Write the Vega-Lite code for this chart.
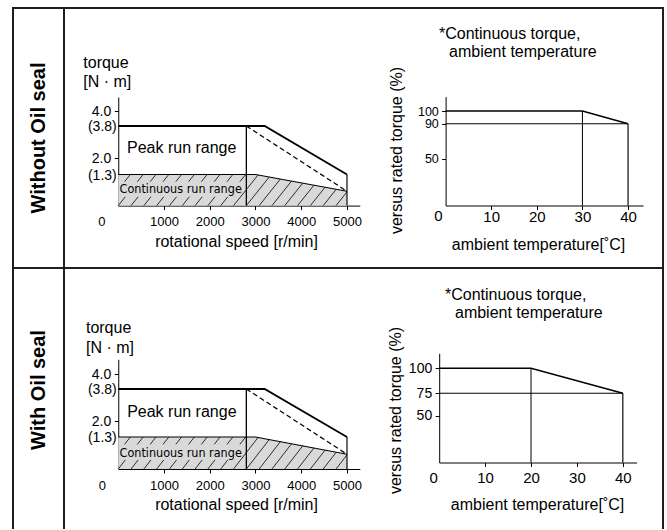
{
"$schema": "https://vega.github.io/schema/vega-lite/v6.json",
"padding": {"left": 12, "top": 7, "right": 3, "bottom": 0},
"bounds": "flush",
"spacing": 0,
"columns": 2,
"config": {
  "font": "Liberation Sans",
  "view": {"stroke": "#1e1e1e", "strokeWidth": 2},
  "axis": {"grid": false, "domainColor": "#000", "domainWidth": 1, "tickColor": "#000", "tickWidth": 1, "labelColor": "#000", "titleColor": "#000", "titleFontWeight": "normal", "labelFlush": false, "labelOverlap": false, "labelBound": false},
  "text": {"color": "#000"},
  "concat": {"spacing": 0}
},
"datasets": {
  "torque_peak": [
    {"speed": 0, "torque": 3.8},
    {"speed": 3200, "torque": 3.8},
    {"speed": 5000, "torque": 1.3}
  ],
  "torque_cont": [
    {"speed": 0, "torque": 1.3},
    {"speed": 3000, "torque": 1.3},
    {"speed": 5000, "torque": 0.6}
  ],
  "torque_segments": [
    {"kind": "rated", "speed": 2800, "torque": 0, "speed2": 2800, "torque2": 3.8},
    {"kind": "dash", "speed": 2800, "torque": 3.8, "speed2": 5000, "torque2": 0.6},
    {"kind": "max", "speed": 5000, "torque": 1.3, "speed2": 5000, "torque2": 0}
  ],
  "hatch": [
    {"speed": 138, "torque": 1.0, "speed2": 264, "torque2": 1.3},
    {"speed": 0, "torque": 0, "speed2": 155, "torque2": 0.37},
    {"speed": 418, "torque": 1.0, "speed2": 544, "torque2": 1.3},
    {"speed": 280, "torque": 0, "speed2": 435, "torque2": 0.37},
    {"speed": 698, "torque": 1.0, "speed2": 824, "torque2": 1.3},
    {"speed": 560, "torque": 0, "speed2": 715, "torque2": 0.37},
    {"speed": 978, "torque": 1.0, "speed2": 1104, "torque2": 1.3},
    {"speed": 840, "torque": 0, "speed2": 995, "torque2": 0.37},
    {"speed": 1258, "torque": 1.0, "speed2": 1384, "torque2": 1.3},
    {"speed": 1120, "torque": 0, "speed2": 1275, "torque2": 0.37},
    {"speed": 1538, "torque": 1.0, "speed2": 1664, "torque2": 1.3},
    {"speed": 1400, "torque": 0, "speed2": 1555, "torque2": 0.37},
    {"speed": 1818, "torque": 1.0, "speed2": 1944, "torque2": 1.3},
    {"speed": 1680, "torque": 0, "speed2": 1835, "torque2": 0.37},
    {"speed": 2098, "torque": 1.0, "speed2": 2224, "torque2": 1.3},
    {"speed": 1960, "torque": 0, "speed2": 2115, "torque2": 0.37},
    {"speed": 2378, "torque": 1.0, "speed2": 2504, "torque2": 1.3},
    {"speed": 2240, "torque": 0, "speed2": 2395, "torque2": 0.37},
    {"speed": 2658, "torque": 1.0, "speed2": 2784, "torque2": 1.3},
    {"speed": 2520, "torque": 0, "speed2": 3056, "torque2": 1.28},
    {"speed": 2800, "torque": 0, "speed2": 3300, "torque2": 1.195},
    {"speed": 3080, "torque": 0, "speed2": 3544, "torque2": 1.11},
    {"speed": 3360, "torque": 0, "speed2": 3788, "torque2": 1.024},
    {"speed": 3640, "torque": 0, "speed2": 4033, "torque2": 0.939},
    {"speed": 3920, "torque": 0, "speed2": 4277, "torque2": 0.853},
    {"speed": 4200, "torque": 0, "speed2": 4521, "torque2": 0.768},
    {"speed": 4480, "torque": 0, "speed2": 4765, "torque2": 0.682},
    {"speed": 4760, "torque": 0, "speed2": 5000, "torque2": 0.574}
  ],
  "temp_without": [
    {"temp": 0, "pct": 100},
    {"temp": 30, "pct": 100},
    {"temp": 40, "pct": 90}
  ],
  "temp_without_segments": [
    {"kind": "derated", "temp": 0, "pct": 90, "temp2": 40, "pct2": 90},
    {"kind": "knee", "temp": 30, "pct": 0, "temp2": 30, "pct2": 100},
    {"kind": "max", "temp": 40, "pct": 0, "temp2": 40, "pct2": 90}
  ],
  "temp_with": [
    {"temp": 0, "pct": 100},
    {"temp": 20, "pct": 100},
    {"temp": 40, "pct": 75}
  ],
  "temp_with_segments": [
    {"kind": "derated", "temp": 0, "pct": 75, "temp2": 40, "pct2": 75},
    {"kind": "knee", "temp": 20, "pct": 0, "temp2": 20, "pct2": 100},
    {"kind": "max", "temp": 40, "pct": 0, "temp2": 40, "pct2": 75}
  ]
},
"concat": [
  {
    "width": 51, "height": 260,
    "data": {"values": [{"label": "Without Oil seal"}]},
    "mark": {"type": "text", "angle": 270, "fontSize": 20, "fontWeight": "bold"},
    "encoding": {
      "x": {"datum": 0.5, "type": "quantitative", "scale": {"domain": [0, 1]}, "axis": null},
      "y": {"datum": 0.5, "type": "quantitative", "scale": {"domain": [0, 1]}, "axis": null},
      "text": {"field": "label", "type": "nominal"}
    }
  },
  {
    "width": 599, "height": 260,
    "resolve": {"scale": {"x": "independent", "y": "independent"}, "axis": {"x": "independent", "y": "independent"}},
    "layer": [
      {
        "data": {"name": "torque_cont"},
        "mark": {"type": "area", "color": "#d9d9d9"},
        "encoding": {
          "x": {"field": "speed", "type": "quantitative",
                "scale": {"domain": [0, 5280], "range": [54.25, 295.8], "nice": false, "zero": false},
                "axis": {"orient": "bottom", "offset": -62.4, "values": [1000, 2000, 3000, 4000, 5000], "format": "d",
                         "labelFontSize": 13, "tickSize": 4, "labelPadding": 6,
                         "title": "rotational speed [r/min]", "titleFontSize": 16, "titleX": 172, "titleY": 40.5,
                         "titleAlign": "center", "titleBaseline": "alphabetic", "titleAngle": 0}},
          "y": {"field": "torque", "type": "quantitative",
                "scale": {"domain": [0, 1.3, 2, 3.8, 4, 4.6], "range": [197.6, 166.5, 150.3, 118, 103, 89], "nice": false, "zero": false},
                "axis": {"orient": "left", "offset": -54.25, "values": [2, 4], "format": ".1f",
                         "labelFontSize": 14, "tickSize": 4, "labelPadding": 3.5, "title": null}}
        }
      },
      {
        "data": {"name": "hatch"},
        "mark": {"type": "rule", "color": "#000", "strokeWidth": 0.8},
        "encoding": {
          "x": {"field": "speed", "type": "quantitative", "scale": {"domain": [0, 5280], "range": [54.25, 295.8], "nice": false, "zero": false}, "axis": null},
          "y": {"field": "torque", "type": "quantitative", "scale": {"domain": [0, 1.3, 2, 3.8, 4, 4.6], "range": [197.6, 166.5, 150.3, 118, 103, 89], "nice": false, "zero": false}, "axis": null},
          "x2": {"field": "speed2"}, "y2": {"field": "torque2"}
        }
      },
      {
        "data": {"values": [{"text": "Continuous run range"}]},
        "mark": {"type": "text", "font": "Liberation Sans Narrow, DejaVu Sans Condensed, sans-serif", "fontSize": 12.5},
        "encoding": {
          "x": {"datum": 1365, "type": "quantitative", "scale": {"domain": [0, 5280], "range": [54.25, 295.8], "nice": false, "zero": false}, "axis": null},
          "y": {"datum": 0.7, "type": "quantitative", "scale": {"domain": [0, 1.3, 2, 3.8, 4, 4.6], "range": [197.6, 166.5, 150.3, 118, 103, 89], "nice": false, "zero": false}, "axis": null},
          "text": {"field": "text", "type": "nominal"}
        }
      },
      {
        "data": {"values": [{"text": "Peak run range"}]},
        "mark": {"type": "text", "fontSize": 16},
        "encoding": {
          "x": {"datum": 1387, "type": "quantitative", "scale": {"domain": [0, 5280], "range": [54.25, 295.8], "nice": false, "zero": false}, "axis": null},
          "y": {"datum": 2.55, "type": "quantitative", "scale": {"domain": [0, 1.3, 2, 3.8, 4, 4.6], "range": [197.6, 166.5, 150.3, 118, 103, 89], "nice": false, "zero": false}, "axis": null},
          "text": {"field": "text", "type": "nominal"}
        }
      },
      {
        "data": {"values": [{"text": "torque", "line": 1}, {"text": "[N · m]", "line": 2}]},
        "transform": [{"filter": "datum.line === 1"}],
        "mark": {"type": "text", "align": "left", "baseline": "alphabetic", "fontSize": 16},
        "encoding": {
          "x": {"datum": -764, "type": "quantitative", "scale": {"domain": [0, 5280], "range": [54.25, 295.8], "nice": false, "zero": false}, "axis": null},
          "y": {"datum": 5.83, "type": "quantitative", "scale": {"domain": [0, 1.3, 2, 3.8, 4, 4.6], "range": [197.6, 166.5, 150.3, 118, 103, 89], "nice": false, "zero": false}, "axis": null},
          "text": {"field": "text", "type": "nominal"}
        }
      },
      {
        "data": {"values": [{"text": "torque", "line": 1}, {"text": "[N · m]", "line": 2}]},
        "transform": [{"filter": "datum.line === 2"}],
        "mark": {"type": "text", "align": "left", "baseline": "alphabetic", "fontSize": 16},
        "encoding": {
          "x": {"datum": -764, "type": "quantitative", "scale": {"domain": [0, 5280], "range": [54.25, 295.8], "nice": false, "zero": false}, "axis": null},
          "y": {"datum": 5.04, "type": "quantitative", "scale": {"domain": [0, 1.3, 2, 3.8, 4, 4.6], "range": [197.6, 166.5, 150.3, 118, 103, 89], "nice": false, "zero": false}, "axis": null},
          "text": {"field": "text", "type": "nominal"}
        }
      },
      {
        "data": {"values": [{"text": "0"}]},
        "mark": {"type": "text", "fontSize": 13, "baseline": "middle", "dx": -16.5, "dy": 16},
        "encoding": {
          "x": {"datum": 0, "type": "quantitative", "scale": {"domain": [0, 5280], "range": [54.25, 295.8], "nice": false, "zero": false}, "axis": null},
          "y": {"datum": 0, "type": "quantitative", "scale": {"domain": [0, 1.3, 2, 3.8, 4, 4.6], "range": [197.6, 166.5, 150.3, 118, 103, 89], "nice": false, "zero": false}, "axis": null},
          "text": {"field": "text", "type": "nominal"}
        }
      },
      {
        "data": {"values": [{"torque": 3.8, "text": "(3.8)"}, {"torque": 1.3, "text": "(1.3)"}]},
        "mark": {"type": "text", "fontSize": 14, "align": "right", "baseline": "middle", "dx": -1.5, "dy": 1},
        "encoding": {
          "x": {"datum": 0, "type": "quantitative", "scale": {"domain": [0, 5280], "range": [54.25, 295.8], "nice": false, "zero": false}, "axis": null},
          "y": {"field": "torque", "type": "quantitative", "scale": {"domain": [0, 1.3, 2, 3.8, 4, 4.6], "range": [197.6, 166.5, 150.3, 118, 103, 89], "nice": false, "zero": false}, "axis": null},
          "text": {"field": "text", "type": "nominal"}
        }
      },
      {
        "data": {"name": "torque_cont"},
        "mark": {"type": "line", "color": "#000", "strokeWidth": 1.2},
        "encoding": {
          "x": {"field": "speed", "type": "quantitative", "scale": {"domain": [0, 5280], "range": [54.25, 295.8], "nice": false, "zero": false}, "axis": null},
          "y": {"field": "torque", "type": "quantitative", "scale": {"domain": [0, 1.3, 2, 3.8, 4, 4.6], "range": [197.6, 166.5, 150.3, 118, 103, 89], "nice": false, "zero": false}, "axis": null}
        }
      },
      {
        "data": {"name": "torque_segments"},
        "mark": {"type": "rule", "color": "#000"},
        "encoding": {
          "x": {"field": "speed", "type": "quantitative", "scale": {"domain": [0, 5280], "range": [54.25, 295.8], "nice": false, "zero": false}, "axis": null},
          "y": {"field": "torque", "type": "quantitative", "scale": {"domain": [0, 1.3, 2, 3.8, 4, 4.6], "range": [197.6, 166.5, 150.3, 118, 103, 89], "nice": false, "zero": false}, "axis": null},
          "x2": {"field": "speed2"}, "y2": {"field": "torque2"},
          "strokeWidth": {"field": "kind", "type": "nominal", "scale": {"domain": ["rated", "dash", "max"], "range": [1.3, 1, 1.8]}, "legend": null},
          "strokeDash": {"field": "kind", "type": "nominal", "scale": {"domain": ["rated", "dash", "max"], "range": [[1, 0], [5, 3], [1, 0]]}, "legend": null}
        }
      },
      {
        "data": {"name": "torque_peak"},
        "mark": {"type": "line", "color": "#000", "strokeWidth": 1.8},
        "encoding": {
          "x": {"field": "speed", "type": "quantitative", "scale": {"domain": [0, 5280], "range": [54.25, 295.8], "nice": false, "zero": false}, "axis": null},
          "y": {"field": "torque", "type": "quantitative", "scale": {"domain": [0, 1.3, 2, 3.8, 4, 4.6], "range": [197.6, 166.5, 150.3, 118, 103, 89], "nice": false, "zero": false}, "axis": null}
        }
      },
      {
        "data": {"name": "temp_without"},
        "mark": {"type": "line", "color": "#000", "strokeWidth": 1.5},
        "encoding": {
          "x": {"field": "temp", "type": "quantitative",
                "scale": {"domain": [0, 43.3], "range": [381.6, 579.1], "nice": false, "zero": false},
                "axis": {"orient": "bottom", "offset": -62.5, "values": [10, 20, 30, 40],
                         "labelFontSize": 15, "tickSize": 4, "labelPadding": -0.5,
                         "title": "ambient temperature[˚C]", "titleFontSize": 16, "titleX": 474, "titleY": 43.5,
                         "titleAlign": "center", "titleBaseline": "alphabetic", "titleAngle": 0}},
          "y": {"field": "pct", "type": "quantitative",
                "scale": {"domain": [0, 50, 90, 100, 115], "range": [197.5, 150.7, 115.7, 103, 88.7], "nice": false, "zero": false},
                "axis": {"orient": "left", "offset": -381.6, "values": [50, 90, 100],
                         "labelFontSize": 12.5, "tickSize": 4, "labelPadding": 3.3,
                         "title": "versus rated torque (%)", "titleFontSize": 16, "titleAngle": 270,
                         "titleAlign": "center", "titleBaseline": "middle", "titleX": -49, "titleY": 142}}
        }
      },
      {
        "data": {"name": "temp_without_segments"},
        "mark": {"type": "rule", "color": "#000"},
        "encoding": {
          "x": {"field": "temp", "type": "quantitative", "scale": {"domain": [0, 43.3], "range": [381.6, 579.1], "nice": false, "zero": false}, "axis": null},
          "y": {"field": "pct", "type": "quantitative", "scale": {"domain": [0, 50, 90, 100, 115], "range": [197.5, 150.7, 115.7, 103, 88.7], "nice": false, "zero": false}, "axis": null},
          "x2": {"field": "temp2"}, "y2": {"field": "pct2"},
          "strokeWidth": {"field": "kind", "type": "nominal", "scale": {"domain": ["derated", "knee", "max"], "range": [1.5, 1, 2]}, "legend": null}
        }
      },
      {
        "data": {"values": [{"text": "0"}]},
        "mark": {"type": "text", "fontSize": 15, "baseline": "middle", "dx": -7.3, "dy": 10.9},
        "encoding": {
          "x": {"datum": 0, "type": "quantitative", "scale": {"domain": [0, 43.3], "range": [381.6, 579.1], "nice": false, "zero": false}, "axis": null},
          "y": {"datum": 0, "type": "quantitative", "scale": {"domain": [0, 50, 90, 100, 115], "range": [197.5, 150.7, 115.7, 103, 88.7], "nice": false, "zero": false}, "axis": null},
          "text": {"field": "text", "type": "nominal"}
        }
      },
      {
        "data": {"values": [{"text": "*Continuous torque,"}]},
        "mark": {"type": "text", "align": "left", "baseline": "alphabetic", "fontSize": 16},
        "encoding": {
          "x": {"datum": -1.45, "type": "quantitative", "scale": {"domain": [0, 43.3], "range": [381.6, 579.1], "nice": false, "zero": false}, "axis": null},
          "y": {"datum": 175.5, "type": "quantitative", "scale": {"domain": [0, 50, 90, 100, 115], "range": [197.5, 150.7, 115.7, 103, 88.7], "nice": false, "zero": false}, "axis": null},
          "text": {"field": "text", "type": "nominal"}
        }
      },
      {
        "data": {"values": [{"text": "ambient temperature"}]},
        "mark": {"type": "text", "align": "left", "baseline": "alphabetic", "fontSize": 16},
        "encoding": {
          "x": {"datum": 0.75, "type": "quantitative", "scale": {"domain": [0, 43.3], "range": [381.6, 579.1], "nice": false, "zero": false}, "axis": null},
          "y": {"datum": 156.3, "type": "quantitative", "scale": {"domain": [0, 50, 90, 100, 115], "range": [197.5, 150.7, 115.7, 103, 88.7], "nice": false, "zero": false}, "axis": null},
          "text": {"field": "text", "type": "nominal"}
        }
      }
    ]
  },
  {
    "width": 51, "height": 261,
    "view": {"strokeDash": [312, 51, 261]},
    "data": {"values": [{"label": "With Oil seal"}]},
    "mark": {"type": "text", "angle": 270, "fontSize": 20, "fontWeight": "bold", "dx": 8.5},
    "encoding": {
      "x": {"datum": 0.5, "type": "quantitative", "scale": {"domain": [0, 1]}, "axis": null},
      "y": {"datum": 0.5, "type": "quantitative", "scale": {"domain": [0, 1]}, "axis": null},
      "text": {"field": "label", "type": "nominal"}
    }
  },
  {
    "width": 599, "height": 261,
    "view": {"strokeDash": [860, 599, 261]},
    "resolve": {"scale": {"x": "independent", "y": "independent"}, "axis": {"x": "independent", "y": "independent"}},
    "layer": [
      {
        "data": {"name": "torque_cont"},
        "mark": {"type": "area", "color": "#d9d9d9"},
        "encoding": {
          "x": {"field": "speed", "type": "quantitative",
                "scale": {"domain": [0, 5280], "range": [54.25, 295.8], "nice": false, "zero": false},
                "axis": {"orient": "bottom", "offset": -60, "values": [1000, 2000, 3000, 4000, 5000], "format": "d",
                         "labelFontSize": 13, "tickSize": 4, "labelPadding": 6,
                         "title": "rotational speed [r/min]", "titleFontSize": 16, "titleX": 172, "titleY": 40.5,
                         "titleAlign": "center", "titleBaseline": "alphabetic", "titleAngle": 0}},
          "y": {"field": "torque", "type": "quantitative",
                "scale": {"domain": [0, 1.3, 2, 3.8, 4, 4.6], "range": [201, 169, 153, 121, 106.3, 91.3], "nice": false, "zero": false},
                "axis": {"orient": "left", "offset": -54.25, "values": [2, 4], "format": ".1f",
                         "labelFontSize": 14, "tickSize": 4, "labelPadding": 3.5, "title": null}}
        }
      },
      {
        "data": {"name": "hatch"},
        "mark": {"type": "rule", "color": "#000", "strokeWidth": 0.8},
        "encoding": {
          "x": {"field": "speed", "type": "quantitative", "scale": {"domain": [0, 5280], "range": [54.25, 295.8], "nice": false, "zero": false}, "axis": null},
          "y": {"field": "torque", "type": "quantitative", "scale": {"domain": [0, 1.3, 2, 3.8, 4, 4.6], "range": [201, 169, 153, 121, 106.3, 91.3], "nice": false, "zero": false}, "axis": null},
          "x2": {"field": "speed2"}, "y2": {"field": "torque2"}
        }
      },
      {
        "data": {"values": [{"text": "Continuous run range"}]},
        "mark": {"type": "text", "font": "Liberation Sans Narrow, DejaVu Sans Condensed, sans-serif", "fontSize": 12.5},
        "encoding": {
          "x": {"datum": 1365, "type": "quantitative", "scale": {"domain": [0, 5280], "range": [54.25, 295.8], "nice": false, "zero": false}, "axis": null},
          "y": {"datum": 0.66, "type": "quantitative", "scale": {"domain": [0, 1.3, 2, 3.8, 4, 4.6], "range": [201, 169, 153, 121, 106.3, 91.3], "nice": false, "zero": false}, "axis": null},
          "text": {"field": "text", "type": "nominal"}
        }
      },
      {
        "data": {"values": [{"text": "Peak run range"}]},
        "mark": {"type": "text", "fontSize": 16},
        "encoding": {
          "x": {"datum": 1390, "type": "quantitative", "scale": {"domain": [0, 5280], "range": [54.25, 295.8], "nice": false, "zero": false}, "axis": null},
          "y": {"datum": 2.52, "type": "quantitative", "scale": {"domain": [0, 1.3, 2, 3.8, 4, 4.6], "range": [201, 169, 153, 121, 106.3, 91.3], "nice": false, "zero": false}, "axis": null},
          "text": {"field": "text", "type": "nominal"}
        }
      },
      {
        "data": {"values": [{"text": "torque", "line": 1}, {"text": "[N · m]", "line": 2}]},
        "transform": [{"filter": "datum.line === 1"}],
        "mark": {"type": "text", "align": "left", "baseline": "alphabetic", "fontSize": 16},
        "encoding": {
          "x": {"datum": -706, "type": "quantitative", "scale": {"domain": [0, 5280], "range": [54.25, 295.8], "nice": false, "zero": false}, "axis": null},
          "y": {"datum": 5.64, "type": "quantitative", "scale": {"domain": [0, 1.3, 2, 3.8, 4, 4.6], "range": [201, 169, 153, 121, 106.3, 91.3], "nice": false, "zero": false}, "axis": null},
          "text": {"field": "text", "type": "nominal"}
        }
      },
      {
        "data": {"values": [{"text": "torque", "line": 1}, {"text": "[N · m]", "line": 2}]},
        "transform": [{"filter": "datum.line === 2"}],
        "mark": {"type": "text", "align": "left", "baseline": "alphabetic", "fontSize": 16},
        "encoding": {
          "x": {"datum": -706, "type": "quantitative", "scale": {"domain": [0, 5280], "range": [54.25, 295.8], "nice": false, "zero": false}, "axis": null},
          "y": {"datum": 4.86, "type": "quantitative", "scale": {"domain": [0, 1.3, 2, 3.8, 4, 4.6], "range": [201, 169, 153, 121, 106.3, 91.3], "nice": false, "zero": false}, "axis": null},
          "text": {"field": "text", "type": "nominal"}
        }
      },
      {
        "data": {"values": [{"text": "0"}]},
        "mark": {"type": "text", "fontSize": 13, "baseline": "middle", "dx": -15.8, "dy": 16.5},
        "encoding": {
          "x": {"datum": 0, "type": "quantitative", "scale": {"domain": [0, 5280], "range": [54.25, 295.8], "nice": false, "zero": false}, "axis": null},
          "y": {"datum": 0, "type": "quantitative", "scale": {"domain": [0, 1.3, 2, 3.8, 4, 4.6], "range": [201, 169, 153, 121, 106.3, 91.3], "nice": false, "zero": false}, "axis": null},
          "text": {"field": "text", "type": "nominal"}
        }
      },
      {
        "data": {"values": [{"torque": 3.8, "text": "(3.8)"}, {"torque": 1.3, "text": "(1.3)"}]},
        "mark": {"type": "text", "fontSize": 14, "align": "right", "baseline": "middle", "dx": -1.5, "dy": 1},
        "encoding": {
          "x": {"datum": 0, "type": "quantitative", "scale": {"domain": [0, 5280], "range": [54.25, 295.8], "nice": false, "zero": false}, "axis": null},
          "y": {"field": "torque", "type": "quantitative", "scale": {"domain": [0, 1.3, 2, 3.8, 4, 4.6], "range": [201, 169, 153, 121, 106.3, 91.3], "nice": false, "zero": false}, "axis": null},
          "text": {"field": "text", "type": "nominal"}
        }
      },
      {
        "data": {"name": "torque_cont"},
        "mark": {"type": "line", "color": "#000", "strokeWidth": 1.2},
        "encoding": {
          "x": {"field": "speed", "type": "quantitative", "scale": {"domain": [0, 5280], "range": [54.25, 295.8], "nice": false, "zero": false}, "axis": null},
          "y": {"field": "torque", "type": "quantitative", "scale": {"domain": [0, 1.3, 2, 3.8, 4, 4.6], "range": [201, 169, 153, 121, 106.3, 91.3], "nice": false, "zero": false}, "axis": null}
        }
      },
      {
        "data": {"name": "torque_segments"},
        "mark": {"type": "rule", "color": "#000"},
        "encoding": {
          "x": {"field": "speed", "type": "quantitative", "scale": {"domain": [0, 5280], "range": [54.25, 295.8], "nice": false, "zero": false}, "axis": null},
          "y": {"field": "torque", "type": "quantitative", "scale": {"domain": [0, 1.3, 2, 3.8, 4, 4.6], "range": [201, 169, 153, 121, 106.3, 91.3], "nice": false, "zero": false}, "axis": null},
          "x2": {"field": "speed2"}, "y2": {"field": "torque2"},
          "strokeWidth": {"field": "kind", "type": "nominal", "scale": {"domain": ["rated", "dash", "max"], "range": [1.3, 1, 1.8]}, "legend": null},
          "strokeDash": {"field": "kind", "type": "nominal", "scale": {"domain": ["rated", "dash", "max"], "range": [[1, 0], [5, 3], [1, 0]]}, "legend": null}
        }
      },
      {
        "data": {"name": "torque_peak"},
        "mark": {"type": "line", "color": "#000", "strokeWidth": 1.8},
        "encoding": {
          "x": {"field": "speed", "type": "quantitative", "scale": {"domain": [0, 5280], "range": [54.25, 295.8], "nice": false, "zero": false}, "axis": null},
          "y": {"field": "torque", "type": "quantitative", "scale": {"domain": [0, 1.3, 2, 3.8, 4, 4.6], "range": [201, 169, 153, 121, 106.3, 91.3], "nice": false, "zero": false}, "axis": null}
        }
      },
      {
        "data": {"name": "temp_with"},
        "mark": {"type": "line", "color": "#000", "strokeWidth": 1.5},
        "encoding": {
          "x": {"field": "temp", "type": "quantitative",
                "scale": {"domain": [0, 43], "range": [375.2, 572.6], "nice": false, "zero": false},
                "axis": {"orient": "bottom", "offset": -66.5, "values": [10, 20, 30, 40],
                         "labelFontSize": 15, "tickSize": 4, "labelPadding": 3.8,
                         "title": "ambient temperature[˚C]", "titleFontSize": 16, "titleX": 473, "titleY": 46.7,
                         "titleAlign": "center", "titleBaseline": "alphabetic", "titleAngle": 0}},
          "y": {"field": "pct", "type": "quantitative",
                "scale": {"domain": [0, 50, 75, 100, 116], "range": [194.5, 147.7, 125.3, 100.3, 85.3], "nice": false, "zero": false},
                "axis": {"orient": "left", "offset": -375.2, "values": [50, 75, 100],
                         "labelFontSize": 14, "tickSize": 4, "labelPadding": 3.5,
                         "title": "versus rated torque (%)", "titleFontSize": 16, "titleAngle": 270,
                         "titleAlign": "center", "titleBaseline": "middle", "titleX": -43.7, "titleY": 142}}
        }
      },
      {
        "data": {"name": "temp_with_segments"},
        "mark": {"type": "rule", "color": "#000"},
        "encoding": {
          "x": {"field": "temp", "type": "quantitative", "scale": {"domain": [0, 43], "range": [375.2, 572.6], "nice": false, "zero": false}, "axis": null},
          "y": {"field": "pct", "type": "quantitative", "scale": {"domain": [0, 50, 75, 100, 116], "range": [194.5, 147.7, 125.3, 100.3, 85.3], "nice": false, "zero": false}, "axis": null},
          "x2": {"field": "temp2"}, "y2": {"field": "pct2"},
          "strokeWidth": {"field": "kind", "type": "nominal", "scale": {"domain": ["derated", "knee", "max"], "range": [1.5, 1, 2]}, "legend": null}
        }
      },
      {
        "data": {"values": [{"text": "0"}]},
        "mark": {"type": "text", "fontSize": 15, "baseline": "middle", "dx": -5.5, "dy": 15.3},
        "encoding": {
          "x": {"datum": 0, "type": "quantitative", "scale": {"domain": [0, 43], "range": [375.2, 572.6], "nice": false, "zero": false}, "axis": null},
          "y": {"datum": 0, "type": "quantitative", "scale": {"domain": [0, 50, 75, 100, 116], "range": [194.5, 147.7, 125.3, 100.3, 85.3], "nice": false, "zero": false}, "axis": null},
          "text": {"field": "text", "type": "nominal"}
        }
      },
      {
        "data": {"values": [{"text": "*Continuous torque,"}]},
        "mark": {"type": "text", "align": "left", "baseline": "alphabetic", "fontSize": 16},
        "encoding": {
          "x": {"datum": 1.26, "type": "quantitative", "scale": {"domain": [0, 43], "range": [375.2, 572.6], "nice": false, "zero": false}, "axis": null},
          "y": {"datum": 172.9, "type": "quantitative", "scale": {"domain": [0, 50, 75, 100, 116], "range": [194.5, 147.7, 125.3, 100.3, 85.3], "nice": false, "zero": false}, "axis": null},
          "text": {"field": "text", "type": "nominal"}
        }
      },
      {
        "data": {"values": [{"text": "ambient temperature"}]},
        "mark": {"type": "text", "align": "left", "baseline": "alphabetic", "fontSize": 16},
        "encoding": {
          "x": {"datum": 3.44, "type": "quantitative", "scale": {"domain": [0, 43], "range": [375.2, 572.6], "nice": false, "zero": false}, "axis": null},
          "y": {"datum": 153.3, "type": "quantitative", "scale": {"domain": [0, 50, 75, 100, 116], "range": [194.5, 147.7, 125.3, 100.3, 85.3], "nice": false, "zero": false}, "axis": null},
          "text": {"field": "text", "type": "nominal"}
        }
      }
    ]
  }
]
}
